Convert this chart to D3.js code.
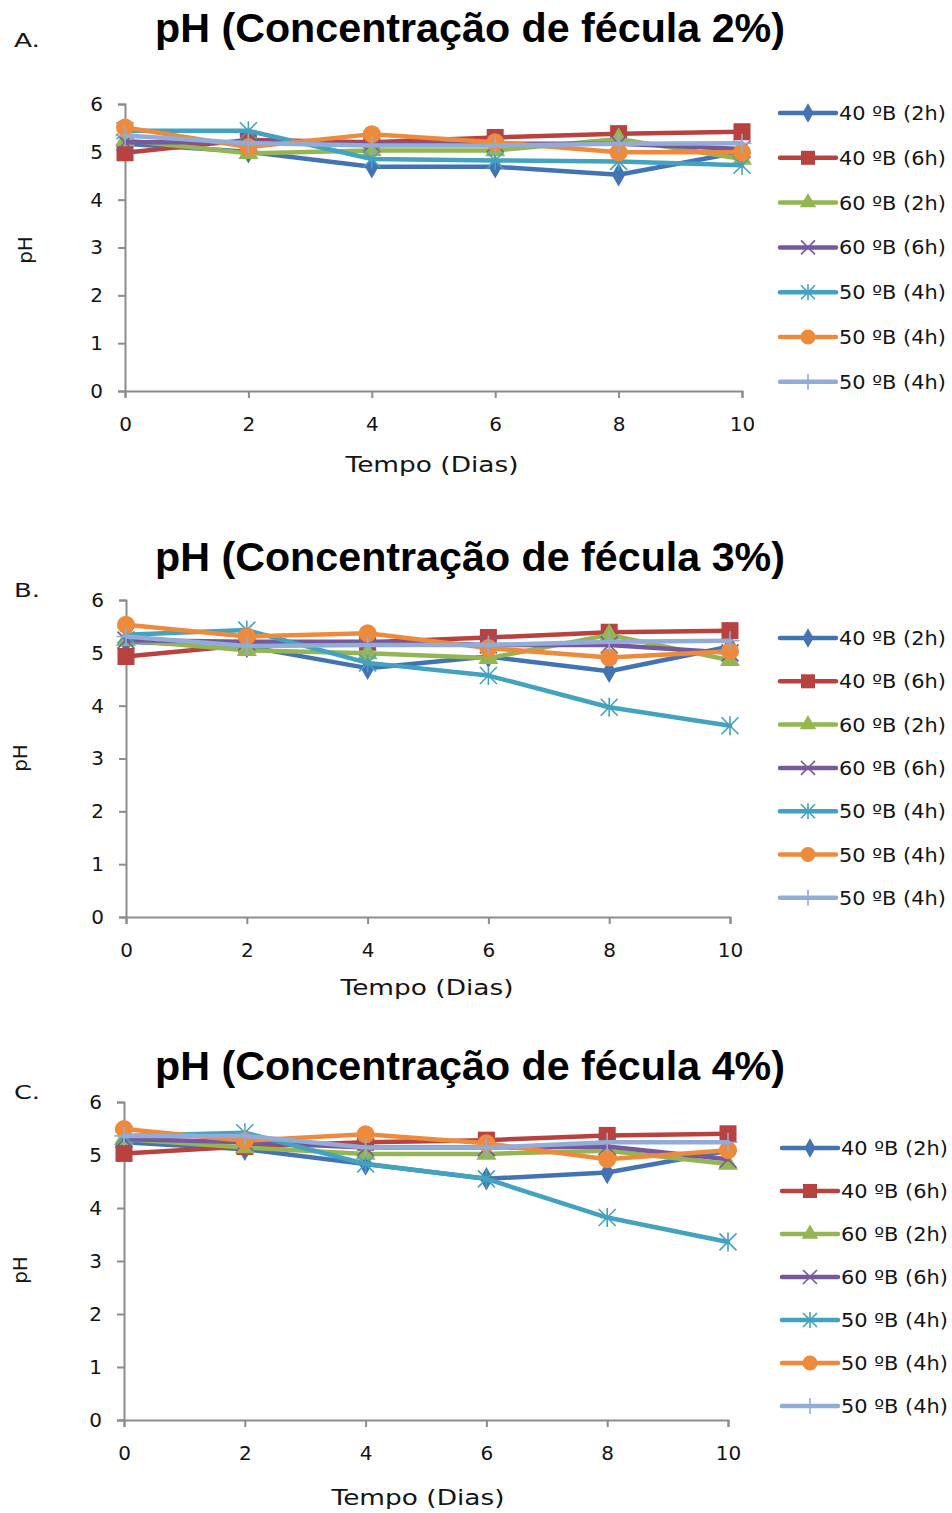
<!DOCTYPE html>
<html>
<head>
<meta charset="utf-8">
<script src="https://cdn.jsdelivr.net/npm/d3@7"></script>
<style>
  html, body { margin: 0; padding: 0; background: #fff; }
  svg { display: block; }
</style>
</head>
<body>
<svg id="chart" width="952" height="1513"></svg>
<script>
// ---------------- DATA ----------------
const days = [0, 2, 4, 6, 8, 10];
const seriesNames = ["40 ºB (2h)", "40 ºB (6h)", "60 ºB (2h)", "60 ºB (6h)", "50 ºB (4h)", "50 ºB (4h)", "50 ºB (4h)"];
const yTicks = [0, 1, 2, 3, 4, 5, 6];
const xTicks = [0, 2, 4, 6, 8, 10];
const panelTitles = ["pH (Concentração de fécula 2%)", "pH (Concentração de fécula 3%)", "pH (Concentração de fécula 4%)"];
const panelLetters = ["A.", "B.", "C."];
const xTitle = "Tempo (Dias)";
const yTitle = "pH";

// pH values, one array per series (order as in seriesNames)
const phA = [
  [5.17, 5.00, 4.69, 4.69, 4.52, 5.00],
  [4.98, 5.25, 5.20, 5.30, 5.38, 5.42],
  [5.24, 4.97, 5.03, 5.03, 5.27, 4.85],
  [5.20, 5.20, 5.17, 5.17, 5.17, 5.06],
  [5.44, 5.44, 4.85, 4.82, 4.80, 4.72],
  [5.51, 5.10, 5.37, 5.20, 4.99, 4.99],
  [5.34, 5.18, 5.13, 5.13, 5.17, 5.18]
];
const phB = [
  [5.21, 5.12, 4.71, 4.93, 4.65, 5.12],
  [4.93, 5.15, 5.20, 5.29, 5.39, 5.42],
  [5.24, 5.05, 4.99, 4.90, 5.34, 4.86],
  [5.24, 5.21, 5.21, 5.15, 5.15, 5.00],
  [5.34, 5.43, 4.81, 4.57, 3.97, 3.62],
  [5.53, 5.31, 5.37, 5.09, 4.91, 5.03],
  [5.31, 5.13, 5.15, 5.15, 5.21, 5.23]
];
const phC = [
  [5.24, 5.11, 4.83, 4.55, 4.67, 5.08],
  [5.03, 5.16, 5.24, 5.28, 5.37, 5.40],
  [5.30, 5.14, 5.02, 5.02, 5.08, 4.83],
  [5.30, 5.24, 5.14, 5.14, 5.16, 4.92],
  [5.36, 5.42, 4.83, 4.55, 3.82, 3.36],
  [5.49, 5.27, 5.39, 5.22, 4.92, 5.09],
  [5.36, 5.36, 5.14, 5.14, 5.24, 5.24]
];
const panelData = [phA, phB, phC];

// ---------------- STYLE ----------------
const colors = ["#4473b4", "#b8423f", "#93b653", "#76599c", "#42a2bf", "#ee8a3c", "#92acd8"];
const markers = ["diamond", "square", "triangle", "x", "asterisk", "circle", "plus"];

const panels = [
  { left: 125, right: 742, bottom: 391, top: 104, legX: 780, legY: 113, legStep: 44.8,
    titleY: 42, letterY: 47, xTitleX: 432, xTitleY: 472, yTitleX: 32, yTitleY: 250 },
  { left: 126, right: 730, bottom: 917, top: 600, legX: 780, legY: 638, legStep: 43.3,
    titleY: 571, letterY: 597, xTitleX: 427, xTitleY: 995, yTitleX: 27, yTitleY: 758 },
  { left: 124, right: 728, bottom: 1420, top: 1102, legX: 782, legY: 1148, legStep: 43.0,
    titleY: 1080, letterY: 1099, xTitleX: 418, xTitleY: 1505, yTitleX: 27, yTitleY: 1270 }
];

const svg = d3.select("#chart");
const axisColor = "#8c8c8c";
const textColor = "#141414";
const labelFont = "'DejaVu Sans', Verdana, sans-serif";
const titleFont = "'Liberation Sans Narrow', 'Liberation Sans', Arial, sans-serif";

function drawMarker(g, type, color, size) {
  const s = size;
  if (type === "diamond") {
    g.append("path").attr("d", d3.symbol(d3.symbolDiamond, s * s * 0.55)()).attr("fill", color);
  } else if (type === "square") {
    g.append("rect").attr("x", -s / 2).attr("y", -s / 2).attr("width", s).attr("height", s).attr("fill", color);
  } else if (type === "triangle") {
    g.append("path").attr("d", d3.symbol(d3.symbolTriangle, s * s * 0.6)()).attr("fill", color);
  } else if (type === "circle") {
    g.append("circle").attr("r", s / 2 + 0.5).attr("fill", color);
  } else if (type === "x") {
    const h = s / 2;
    g.append("path").attr("d", `M${-h},${-h}L${h},${h}M${-h},${h}L${h},${-h}`)
      .attr("stroke", color).attr("stroke-width", 1.6).attr("fill", "none");
  } else if (type === "asterisk") {
    const h = s / 2;
    g.append("path").attr("d", `M${-h},${-h}L${h},${h}M${-h},${h}L${h},${-h}M0,${-h - 1}L0,${h + 1}`)
      .attr("stroke", color).attr("stroke-width", 1.6).attr("fill", "none");
  } else if (type === "plus") {
    const h = s / 2 + 1;
    g.append("path").attr("d", `M0,${-h}L0,${h}M${-h},0L${h},0`)
      .attr("stroke", color).attr("stroke-width", 1.6).attr("fill", "none");
  }
}

panels.forEach((p, pi) => {
  const x = d3.scaleLinear().domain([0, 10]).range([p.left, p.right]);
  const y = d3.scaleLinear().domain([0, 6]).range([p.bottom, p.top]);
  const g = svg.append("g");

  // Title
  g.append("text")
    .attr("x", 470).attr("y", p.titleY)
    .attr("text-anchor", "middle")
    .attr("font-family", titleFont).attr("font-weight", "bold")
    .attr("font-size", 40)
    .attr("textLength", 630).attr("lengthAdjust", "spacingAndGlyphs")
    .attr("fill", "#000")
    .text(panelTitles[pi]);

  // Panel letter
  g.append("text")
    .attr("x", 14).attr("y", p.letterY)
    .attr("font-family", labelFont).attr("font-size", 20)
    .attr("textLength", 26).attr("lengthAdjust", "spacingAndGlyphs")
    .attr("fill", textColor)
    .text(panelLetters[pi]);

  // Y axis
  const yAxis = d3.axisLeft(y).tickValues(yTicks).tickFormat(d3.format("d")).tickSizeOuter(0).tickSize(7).tickPadding(15);
  const ya = g.append("g").attr("transform", `translate(${p.left},0)`).call(yAxis);
  // X axis
  const xAxis = d3.axisBottom(x).tickValues(xTicks).tickFormat(d3.format("d")).tickSizeOuter(0).tickSize(7).tickPadding(19);
  const xa = g.append("g").attr("transform", `translate(0,${p.bottom})`).call(xAxis);

  [ya, xa].forEach(a => {
    a.select(".domain").attr("stroke", axisColor).attr("stroke-width", 2);
    a.selectAll(".tick line").attr("stroke", axisColor).attr("stroke-width", 2);
    a.selectAll(".tick text").attr("font-family", labelFont).attr("font-size", 20).attr("fill", textColor);
  });

  // Axis titles
  g.append("text")
    .attr("x", p.xTitleX).attr("y", p.xTitleY)
    .attr("text-anchor", "middle")
    .attr("font-family", labelFont).attr("font-size", 22)
    .attr("textLength", 173).attr("lengthAdjust", "spacingAndGlyphs")
    .attr("fill", textColor)
    .text(xTitle);
  g.append("text")
    .attr("transform", `translate(${p.yTitleX},${p.yTitleY}) rotate(-90)`)
    .attr("text-anchor", "middle")
    .attr("font-family", labelFont).attr("font-size", 20)
    .attr("fill", textColor)
    .text(yTitle);

  // Series
  const line = d3.line().x((d, i) => x(days[i])).y(d => y(d));
  const data = panelData[pi];
  data.forEach((vals, si) => {
    const sg = g.append("g");
    sg.append("path").attr("d", line(vals))
      .attr("fill", "none").attr("stroke", colors[si]).attr("stroke-width", 4.5)
      .attr("stroke-linejoin", "round").attr("stroke-linecap", "round");
    vals.forEach((v, i) => {
      const mg = sg.append("g").attr("transform", `translate(${x(days[i])},${y(v)})`);
      drawMarker(mg, markers[si], colors[si], 17);
    });
  });

  // Legend
  seriesNames.forEach((name, si) => {
    const ly = p.legY + si * p.legStep;
    const lg = g.append("g");
    lg.append("line").attr("x1", p.legX).attr("x2", p.legX + 56).attr("y1", ly).attr("y2", ly)
      .attr("stroke", colors[si]).attr("stroke-width", 4.5).attr("stroke-linecap", "round");
    const mg = lg.append("g").attr("transform", `translate(${p.legX + 28},${ly})`);
    drawMarker(mg, markers[si], colors[si], 14);
    lg.append("text").attr("x", p.legX + 59).attr("y", ly + 7)
      .attr("font-family", labelFont).attr("font-size", 19)
      .attr("textLength", 107).attr("lengthAdjust", "spacingAndGlyphs")
      .attr("fill", textColor)
      .text(name);
  });
});
</script>
</body>
</html>
